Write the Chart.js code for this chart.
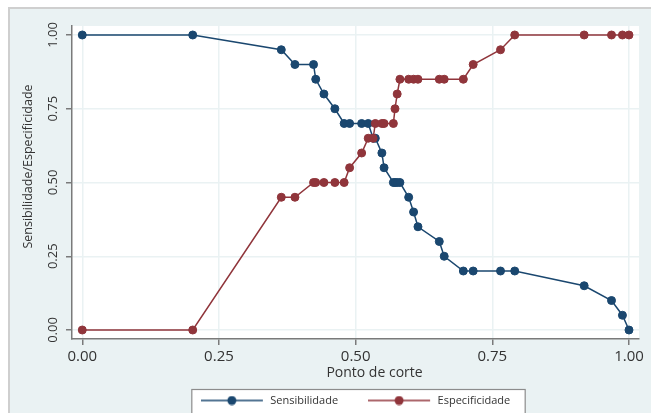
<!DOCTYPE html>
<html>
<head>
<meta charset="utf-8">
<script src="https://cdn.jsdelivr.net/npm/chart.js@4.4.1/dist/chart.umd.min.js"></script>
<style>
  html, body { margin: 0; padding: 0; background: #fff; }
  body { width: 651px; height: 413px; position: relative; overflow: hidden; }
  #frame {
    position: absolute; left: 8px; top: 7px; width: 700px; height: 500px;
    background: #eaf2f3; border-left: 2px solid #cfcfcf; border-top: 2px solid #cfcfcf;
  }
  #myChart { position: absolute; left: 0; top: 0; }
</style>
</head>
<body>
<div id="frame"></div>
<canvas id="myChart" width="651" height="413"></canvas>
<script>
// cut points (shared by both curves)
const cutoffs = [0.000, 0.202, 0.364, 0.389, 0.423, 0.427, 0.442, 0.462, 0.479, 0.489,
  0.511, 0.523, 0.532, 0.536, 0.548, 0.552, 0.569, 0.572, 0.576, 0.581,
  0.597, 0.606, 0.614, 0.653, 0.662, 0.697, 0.715, 0.765, 0.791, 0.918,
  0.968, 0.988, 1.000];
const sensibilidade = [1.00, 1.00, 0.95, 0.90, 0.90, 0.85, 0.80, 0.75, 0.70, 0.70,
  0.70, 0.70, 0.65, 0.65, 0.60, 0.55, 0.50, 0.50, 0.50, 0.50,
  0.45, 0.40, 0.35, 0.30, 0.25, 0.20, 0.20, 0.20, 0.20, 0.15,
  0.10, 0.05, 0.00];
const especificidade = [0.00, 0.00, 0.45, 0.45, 0.50, 0.50, 0.50, 0.50, 0.50, 0.55,
  0.60, 0.65, 0.65, 0.70, 0.70, 0.70, 0.70, 0.75, 0.80, 0.85,
  0.85, 0.85, 0.85, 0.85, 0.85, 0.85, 0.90, 0.95, 1.00, 1.00,
  1.00, 1.00, 1.00];
const xTicks = [0, 0.25, 0.5, 0.75, 1];
const yTicks = [0, 0.25, 0.5, 0.75, 1];
const seriesNames = ["Sensibilidade", "Especificidade"];
const xTitle = "Ponto de corte";
const yTitle = "Sensibilidade/Especificidade";

const blue = "#1a476f";
const red = "#90353b";
const font = "'Open Sans', 'DejaVu Sans', sans-serif";

// legend sample: line with a marker in the middle
function legendSample(color) {
  const c = document.createElement("canvas");
  c.width = 64;
  c.height = 10;
  const g = c.getContext("2d");
  g.strokeStyle = color;
  g.lineWidth = 1.5;
  g.beginPath();
  g.moveTo(0, 5);
  g.lineTo(62, 5);
  g.stroke();
  g.fillStyle = color;
  g.beginPath();
  g.arc(31, 5, 4.5, 0, Math.PI * 2);
  g.fill();
  return c;
}

const toPoints = (ys) => cutoffs.map((x, i) => ({ x, y: ys[i] }));

const ctx = document.getElementById("myChart").getContext("2d");

new Chart(ctx, {
  type: "line",
  data: {
    datasets: [
      {
        label: seriesNames[0],
        data: toPoints(sensibilidade),
        borderColor: blue,
        backgroundColor: blue,
        pointBackgroundColor: blue,
        borderWidth: 1.5,
        pointRadius: 4,
        pointBorderWidth: 1,
        order: 1,
      },
      {
        label: seriesNames[1],
        data: toPoints(especificidade),
        borderColor: red,
        backgroundColor: red,
        pointBackgroundColor: red,
        borderWidth: 1.5,
        pointRadius: 4,
        pointBorderWidth: 1,
        order: 0,
      },
    ],
  },
  options: {
    responsive: false,
    animation: false,
    layout: { padding: { top: 26, left: 0, right: 12, bottom: -3 } },
    scales: {
      x: {
        type: "linear",
        min: -0.0188,
        max: 1.0183,
        afterBuildTicks: (s) => { s.ticks = xTicks.map((v) => ({ value: v })); },
        afterFit: (s) => { s.height = 26; },
        grid: { color: "#eaf2f3", lineWidth: 1.5, tickLength: 6, tickColor: "#7a7a7a", tickWidth: 1.5 },
        border: { color: "#7a7a7a", width: 1.5 },
        ticks: {
          autoSkip: false,
          maxRotation: 0,
          padding: 3,
          color: "#333",
          font: { family: font, size: 15 },
          callback: (v) => Number(v).toFixed(2),
        },
      },
      y: {
        type: "linear",
        min: -0.0305,
        max: 1.0305,
        afterBuildTicks: (s) => { s.ticks = yTicks.map((v) => ({ value: v })); },
        afterFit: (s) => { s.width = 72; },
        grid: { color: "#eaf2f3", lineWidth: 1.5, tickLength: 6, tickColor: "#7a7a7a", tickWidth: 1.5 },
        border: { color: "#7a7a7a", width: 1.5 },
        ticks: {
          autoSkip: false,
          minRotation: 90,
          maxRotation: 90,
          crossAlign: "center",
          padding: 0,
          color: "#333",
          font: { family: font, size: 13 },
          callback: (v) => Number(v).toFixed(2),
        },
      },
    },
    plugins: {
      tooltip: { enabled: false },
      legend: {
        position: "bottom",
        fullSize: false,
        labels: {
          usePointStyle: true,
          pointStyleWidth: 64,
          padding: 30,
          color: "#333",
          font: { family: font, size: 11 },
          sort: (a, b) => a.datasetIndex - b.datasetIndex,
          generateLabels: (chart) =>
            chart.data.datasets.map((ds, i) => ({
              text: ds.label,
              datasetIndex: i,
              pointStyle: legendSample(ds.borderColor),
              fillStyle: ds.borderColor,
              strokeStyle: ds.borderColor,
              lineWidth: 0,
              fontColor: "#333",
              hidden: false,
            })),
        },
      },
    },
  },
  plugins: [
    {
      id: "panels",
      beforeDraw(chart) {
        const { ctx, chartArea: a, legend } = chart;
        ctx.save();
        ctx.fillStyle = "#fff";
        ctx.fillRect(a.left, a.top, a.right - a.left, a.bottom - a.top);
        // legend frame
        const boxes = legend.legendHitBoxes;
        if (boxes && boxes.length) {
          const first = boxes[0];
          const last = boxes[boxes.length - 1];
          const l = first.left - 9;
          const r = last.left + last.width + 15;
          const t = first.top - 5.5;
          ctx.fillStyle = "#fff";
          ctx.fillRect(l, t, r - l, 60);
          ctx.strokeStyle = "#8c8c8c";
          ctx.lineWidth = 1.2;
          ctx.strokeRect(l, t, r - l, 60);
        }
        ctx.restore();
      },
      afterDraw(chart) {
        const { ctx } = chart;
        ctx.save();
        ctx.fillStyle = "#333";
        ctx.textAlign = "center";
        ctx.textBaseline = "middle";
        ctx.font = `14px ${font}`;
        ctx.fillText(xTitle, 374.5, 373);
        ctx.translate(28, 166.5);
        ctx.rotate(-Math.PI / 2);
        ctx.font = `12.5px ${font}`;
        ctx.fillText(yTitle, 0, 0);
        ctx.restore();
      },
    },
  ],
});
</script>
</body>
</html>
